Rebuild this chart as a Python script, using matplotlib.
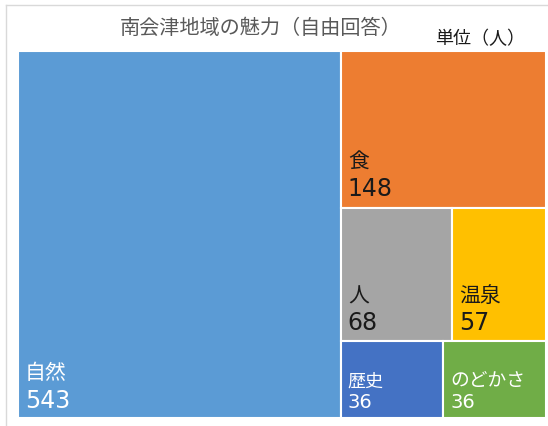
import matplotlib
matplotlib.use('Agg')
import matplotlib.pyplot as plt
from matplotlib.patches import Rectangle
from matplotlib.lines import Line2D

# ---- data ----
categories = ['自然', '食', '人', '温泉', '歴史', 'のどかさ']
values = [543, 148, 68, 57, 36, 36]
title = '南会津地域の魅力（自由回答）'
unit_label = '単位（人）'

# ---- style ----
colors = ['#5B9BD5', '#ED7D31', '#A5A5A5', '#FFC000', '#4472C4', '#70AD47']
text_colors = ['white', '#1a1a1a', '#1a1a1a', '#1a1a1a', 'white', 'white']
name_sizes = [15, 15, 15, 15, 13, 13.5]
value_sizes = [17, 17, 17, 17, 14, 14]
name_offsets = [40, 41, 40, 40, 32, 33]
value_offsets = [11, 13, 12, 12, 11, 11]
# layout structure: first column holds item 0; second column rows (top->bottom)
rows = [[1], [2, 3], [4, 5]]

W, H = 548, 427
fig = plt.figure(figsize=(W / 100, H / 100), dpi=100)
fig.patch.set_facecolor('white')

# chart border (light gray)
fig.add_artist(Line2D([5.5 / W, 5.5 / W], [0, 1 - 5.5 / H], transform=fig.transFigure,
                      color='#d9d9d9', lw=1))
fig.add_artist(Line2D([5.5 / W, 1], [1 - 5.5 / H, 1 - 5.5 / H], transform=fig.transFigure,
                      color='#d9d9d9', lw=1))

left, right, top, bottom = 18, 546, 52, 419
ax = fig.add_axes([left / W, (H - bottom) / H, (right - left) / W, (bottom - top) / H])
ax.set_xlim(0, 1)
ax.set_ylim(0, 1)
ax.axis('off')

total = sum(values)
rects = {}
w0 = values[0] / total
rects[0] = (0.0, 0.0, w0, 1.0)
rest = total - values[0]
y_top = 1.0
for row in rows:
    row_sum = sum(values[i] for i in row)
    h = row_sum / rest
    x = w0
    for i in row:
        w = (1 - w0) * values[i] / row_sum
        rects[i] = (x, y_top - h, w, h)
        x += w
    y_top -= h

for i, cat in enumerate(categories):
    x, y, w, h = rects[i]
    ax.add_patch(Rectangle((x, y), w, h, facecolor=colors[i], edgecolor='white',
                           lw=1.5, clip_on=False))
    ax.annotate(str(values[i]), xy=(x, y), xytext=(7, value_offsets[i]),
                textcoords='offset pixels', ha='left', va='baseline',
                fontsize=value_sizes[i], color=text_colors[i], family=['DejaVu Sans'])
    ax.annotate(cat, xy=(x, y), xytext=(7, name_offsets[i]),
                textcoords='offset pixels', ha='left', va='baseline',
                fontsize=name_sizes[i], color=text_colors[i],
                family=['Noto Sans CJK JP', 'DejaVu Sans'])

fig.text(261 / W, 1 - 28 / H, title, ha='center', va='center', fontsize=14.5,
         color='#595959', family=['Noto Sans CJK JP', 'DejaVu Sans'])
fig.text(480 / W, 1 - 39 / H, unit_label, ha='center', va='center', fontsize=13,
         color='#1a1a1a', family=['Noto Sans CJK JP', 'DejaVu Sans'])

fig.savefig('out.png', dpi=100)
